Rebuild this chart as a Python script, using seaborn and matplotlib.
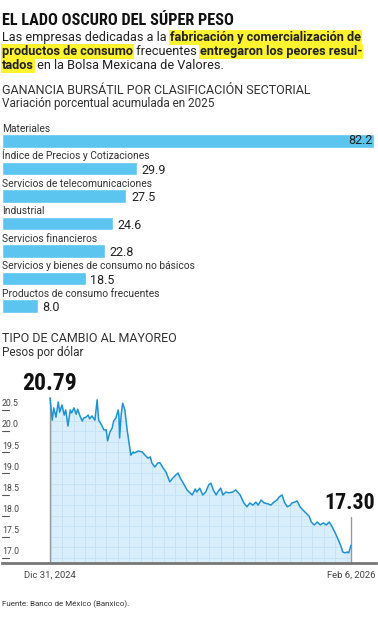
import seaborn as sns
import matplotlib.pyplot as plt
import matplotlib.dates as mdates
import matplotlib.transforms as mtransforms
from matplotlib import font_manager
import pandas as pd

sns.set_style("white")
plt.rcParams["font.family"] = ["Roboto", "DejaVu Sans"]

# Datos: ganancia bursátil por sector (2025)
sectores = [
    "Materiales",
    "Índice de Precios y Cotizaciones",
    "Servicios de telecomunicaciones",
    "Industrial",
    "Servicios financieros",
    "Servicios y bienes de consumo no básicos",
    "Productos de consumo frecuentes",
]
ganancia = [82.2, 29.9, 27.5, 24.6, 22.8, 18.5, 8.0]

# Datos: tipo de cambio (días desde el 31 dic 2024, pesos por dólar)
dias = [0, 3, 5, 8, 11, 13, 16, 19, 21, 24, 27, 29, 32, 35, 37, 40, 43, 45,
        48, 51, 53, 56, 60, 63, 65, 69, 72, 75, 77, 80, 83, 85, 88, 91, 92,
        93, 95, 97, 100, 103, 106, 108, 111, 112, 118, 123, 127, 131, 134,
        136, 140, 144, 147, 151, 155, 160, 164, 168, 171, 174, 178, 183, 187,
        190, 194, 196, 200, 204, 208, 212, 215, 218, 222, 224, 228, 231, 235,
        239, 244, 248, 254, 259, 263, 267, 271, 275, 278, 282, 286, 291, 295,
        299, 303, 306, 310, 313, 317, 321, 323, 327, 330, 334, 338, 342, 346,
        349, 353, 357, 361, 365, 369, 373, 377, 381, 385, 389, 391, 394, 397,
        399, 402]
tipo_cambio = [20.79, 20.26, 20.55, 20.33, 20.69, 20.45, 20.62, 20.38, 20.50,
               20.12, 20.50, 20.43, 20.55, 20.40, 20.52, 20.36, 20.24, 20.31,
               20.33, 20.38, 20.29, 20.36, 20.26, 20.74, 20.26, 20.14, 20.03,
               20.03, 19.77, 19.98, 20.07, 20.24, 20.31, 20.50, 20.38, 19.84,
               20.38, 20.66, 20.50, 20.03, 19.67, 19.43, 19.51, 19.48, 19.53,
               19.51, 19.43, 19.36, 19.39, 19.25, 19.15, 19.25, 19.25, 19.13,
               19.03, 18.80, 18.89, 18.96, 19.01, 18.89, 18.77, 18.61, 18.54,
               18.49, 18.63, 18.56, 18.65, 18.49, 18.56, 18.73, 18.77, 18.61,
               18.49, 18.56, 18.65, 18.49, 18.56, 18.54, 18.56, 18.61, 18.49,
               18.30, 18.21, 18.30, 18.25, 18.32, 18.25, 18.37, 18.30, 18.28,
               18.25, 18.32, 18.37, 18.44, 18.49, 18.32, 18.21, 18.25, 18.30,
               18.32, 18.35, 18.21, 18.13, 18.06, 17.99, 17.85, 17.78, 17.85,
               17.78, 17.83, 17.78, 17.85, 17.73, 17.59, 17.43, 17.26, 17.14,
               17.12, 17.14, 17.12, 17.30]
ticks_tc = [17.0, 17.5, 18.0, 18.5, 19.0, 19.5, 20.0, 20.5]


# Fuente angosta para los titulares (si existe alguna instalada)
def fuente_angosta():
    prefer = ["Liberation Sans Narrow", "Roboto Condensed", "DejaVu Sans Condensed",
              "Open Sans Condensed", "Noto Sans Condensed"]
    cands = []
    for f in font_manager.fontManager.ttflist:
        nom = f.name
        ruta = f.fname.lower()
        angosta = ("condensed" in str(f.stretch) or "Narrow" in nom or "Condensed" in nom
                   or "condensed" in ruta or "narrow" in ruta)
        negrita = (f.weight in ("bold", 700, 800, 900) or
                   (isinstance(f.weight, int) and f.weight >= 700) or "bold" in ruta)
        if angosta and negrita and "italic" not in ruta and "oblique" not in ruta:
            rank = next((i for i, p in enumerate(prefer) if p.lower() in (nom + ruta).lower()
                         or p.replace(" ", "").lower() in ruta), len(prefer))
            cands.append((rank, f.fname))
    if cands:
        cands.sort()
        return font_manager.FontProperties(fname=cands[0][1])
    return font_manager.FontProperties(family=["Roboto", "DejaVu Sans"], weight="bold")


FP_TIT = fuente_angosta()

W, H = 378, 620
fig = plt.figure(figsize=(W / 100, H / 100), dpi=100)
renderer = fig.canvas.get_renderer()
TXT = "#222222"


def fx(x):
    return x / W


def fy(y):
    return 1 - y / H


def ajustar(t, ancho, tope):
    # escala el tamaño para que el texto ocupe el ancho deseado
    w = t.get_window_extent(renderer).width
    t.set_fontsize(min(tope, t.get_fontsize() * ancho / w))


# Título
tit = fig.text(fx(2), fy(25), "EL LADO OSCURO DEL SÚPER PESO",
               fontproperties=FP_TIT, fontsize=20, color="#111111", va="baseline")
ajustar(tit, 232, 24)


def linea_rica(x0, y0, partes, size=9.2):
    x = x0
    for texto, negrita in partes:
        t = fig.text(fx(x), fy(y0), texto, fontsize=size, color=TXT,
                     weight="bold" if negrita else "normal", va="baseline")
        if negrita:
            t.set_bbox(dict(facecolor="#fff22e", edgecolor="none", pad=0.8))
        x += t.get_window_extent(renderer).width


linea_rica(2, 41, [("Las empresas dedicadas a la ", False),
                   ("fabricación y comercialización de", True)])
linea_rica(2, 55, [("productos de consumo", True), (" frecuentes ", False),
                   ("entregaron los peores resul-", True)])
linea_rica(2, 69, [("tados", True), (" en la Bolsa Mexicana de Valores.", False)])

# Sección 1
fig.text(fx(2), fy(94), "GANANCIA BURSÁTIL POR CLASIFICACIÓN SECTORIAL",
         fontsize=9, color="#333333", va="baseline")
fig.text(fx(2), fy(107), "Variación porcentual acumulada en 2025",
         fontsize=8.5, color="#333333", va="baseline")

ax1 = fig.add_axes([fx(2), fy(319.75), 372 / W, 206.25 / H])
df_bar = pd.DataFrame({"sector": sectores, "ganancia": ganancia})
sns.barplot(data=df_bar, x="ganancia", y="sector", color="#5bc4ef",
            saturation=1, width=0.48, ax=ax1)
ax1.set_xlim(0, 82.2)
ax1.set_ylim(6.5, -1.0)
ax1.axis("off")
for i, (s, v) in enumerate(zip(sectores, ganancia)):
    ax1.text(0, i - 0.27, s, fontsize=7.4, color="#333333", va="bottom", ha="left")
    if i == 0:
        ax1.text(v - 0.4, i + 0.22, f"{v:.1f}", fontsize=9, color=TXT,
                 ha="right", va="bottom")
    else:
        ax1.text(v + 1.0, i + 0.3, f"{v:.1f}", fontsize=9, color=TXT,
                 ha="left", va="bottom")

# Sección 2
fig.text(fx(2), fy(342), "TIPO DE CAMBIO AL MAYOREO",
         fontsize=9, color="#333333", va="baseline")
fig.text(fx(2), fy(356), "Pesos por dólar",
         fontsize=8.5, color="#333333", va="baseline")

inicio = pd.Timestamp("2024-12-31")
df_tc = pd.DataFrame({"fecha": inicio + pd.to_timedelta(dias, unit="D"),
                      "tc": tipo_cambio})

ax2 = fig.add_axes([fx(2), fy(563), 374 / W, (563 - 380) / H])
y0 = 16.88
fill = ax2.fill_between(df_tc["fecha"], df_tc["tc"], y0, color="#d8eefb",
                        lw=0, zorder=0.3)
sns.lineplot(data=df_tc, x="fecha", y="tc", color="#1d92d4", lw=1.1,
             ax=ax2, zorder=3)
ax2.set_xlim(inicio - pd.Timedelta(days=64.1), inicio + pd.Timedelta(days=435.4))
ax2.set_ylim(y0, 21.21)

# Cuadrícula recortada al área
ax2.xaxis.set_major_locator(mdates.DayLocator(bymonthday=[1, 16]))
ax2.set_yticks([17 + 0.25 * k for k in range(16)])
ax2.grid(True, color="#c4e2f5", lw=0.6)
ax2.set_axisbelow(True)
for gl in ax2.get_xgridlines() + ax2.get_ygridlines():
    gl.set_clip_path(fill.get_paths()[0], ax2.transData)
    gl.set_zorder(0.5)
ax2.tick_params(left=False, bottom=False, labelleft=False, labelbottom=False)
ax2.set_xlabel("")
ax2.set_ylabel("")
for side in ["top", "right", "left"]:
    ax2.spines[side].set_visible(False)
ax2.spines["bottom"].set_color("#777777")
ax2.spines["bottom"].set_linewidth(2)

trans = mtransforms.blended_transform_factory(ax2.transAxes, ax2.transData)
for t in ticks_tc:
    ax2.plot([0, 0.018], [t, t], color="#555555", lw=0.8, transform=trans,
             clip_on=False)
    ax2.text(0.0, t + 0.04, f"{t:.1f}", fontsize=6.3, color="#444444",
             transform=trans, va="bottom", ha="left")

f0, f1 = df_tc["fecha"].iloc[0], df_tc["fecha"].iloc[-1]
v0, v1 = df_tc["tc"].iloc[0], df_tc["tc"].iloc[-1]
ax2.plot([f0, f0], [y0, v0], color="#999999", lw=1, zorder=2)
ax2.plot([f1, f1], [y0, 17.98], color="#999999", lw=1, zorder=2)
t_ini = ax2.text(f0, 20.85, f"{v0:.2f}", fontproperties=FP_TIT, fontsize=24,
                 color="#111111", ha="center", va="bottom")
ajustar(t_ini, 55, 30)
t_fin = ax2.text(f1 + pd.Timedelta(days=32), 18.03, f"{v1:.2f}",
                 fontproperties=FP_TIT, fontsize=24, color="#111111",
                 ha="right", va="bottom")
ajustar(t_fin, 51, 30)

trans_x = mtransforms.blended_transform_factory(ax2.transData, ax2.transAxes)
ax2.text(f0, -0.04, "Dic 31, 2024", fontsize=6.8, color="#444444",
         transform=trans_x, ha="center", va="top")
ax2.text(f1, -0.04, "Feb 6, 2026", fontsize=6.8, color="#444444",
         transform=trans_x, ha="center", va="top")

fig.text(fx(2), fy(606), "Fuente: Banco de México (Banxico).",
         fontsize=5.8, color="#333333", va="baseline")

fig.savefig("out.png", dpi=100)
